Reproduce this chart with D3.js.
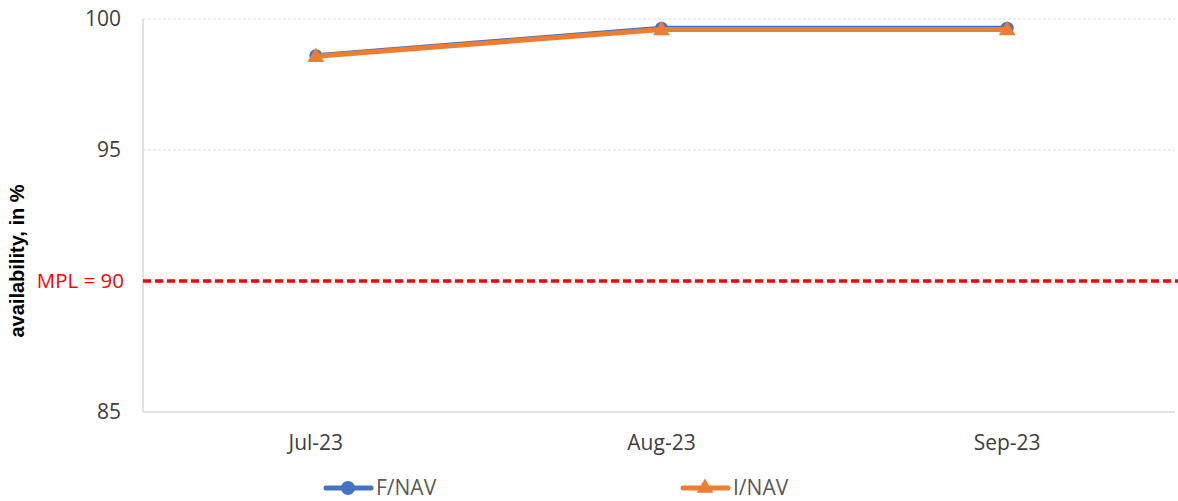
<!DOCTYPE html>
<html><head><meta charset="utf-8">
<script src="https://cdn.jsdelivr.net/npm/d3@7"></script>
<style>body{margin:0;background:#fff}svg{display:block}text{font-family:"Open Sans","Liberation Sans",sans-serif}</style>
</head><body>
<svg id="c" width="1178" height="501"></svg>
<script>
const categories = ["Jul-23", "Aug-23", "Sep-23"];
const fnav = [98.6, 99.65, 99.65];
const inav = [98.58, 99.6, 99.6];
const yTicks = [85, 95, 100];
const mpl = 90;

const svg = d3.select("#c");
const L = 143, R = 1178, T = 19, B = 412;
const x = d3.scaleBand().domain(categories).range([L, R + 2]);
const y = d3.scaleLinear().domain([85, 100]).range([B, T]);
const cx = d => x(d) + x.bandwidth() / 2;

// gridlines
svg.append("g").selectAll("line").data([95, 100]).join("line")
  .attr("x1", L).attr("x2", 1175).attr("y1", d => y(d)).attr("y2", d => y(d))
  .attr("stroke", "#d9d9d9").attr("stroke-width", 1).attr("stroke-dasharray", "3,2");
// axes lines
svg.append("line").attr("x1", L).attr("x2", L).attr("y1", T).attr("y2", B).attr("stroke", "#d9d9d9").attr("stroke-width", 1.5);
svg.append("line").attr("x1", L).attr("x2", 1175).attr("y1", B).attr("y2", B).attr("stroke", "#d9d9d9").attr("stroke-width", 1.5);

// y tick labels
svg.append("g").selectAll("text").data(yTicks).join("text")
  .attr("x", 121).attr("y", d => y(d)).attr("dy", "0.35em").attr("text-anchor", "end")
  .attr("font-size", 21).attr("fill", "#404040").text(d => d);

// x labels
svg.append("g").selectAll("text").data(categories).join("text")
  .attr("x", d => cx(d)).attr("y", 443).attr("dy", "0.35em").attr("text-anchor", "middle")
  .attr("font-size", 21).attr("fill", "#404040").text(d => d);

// y axis title
svg.append("text").attr("transform", `translate(17,261) rotate(-90)`)
  .attr("text-anchor", "middle").attr("dy", "0.35em").attr("font-size", 20).attr("font-weight", "bold")
  .style("font-family", "'Liberation Sans', Arial, sans-serif")
  .attr("fill", "#000").text("availability, in %");

// MPL line
svg.append("line").attr("x1", L).attr("x2", 1178).attr("y1", y(mpl)).attr("y2", y(mpl))
  .attr("stroke", "#ff0000").attr("stroke-width", 3.5).attr("stroke-dasharray", "8,4");
svg.append("text").attr("x", 124).attr("y", y(mpl)).attr("dy", "0.35em").attr("text-anchor", "end")
  .attr("font-size", 20.5).attr("fill", "#ff0000").text("MPL = " + mpl);

const line = d3.line().x((d, i) => cx(categories[i])).y(d => y(d));
const blue = "#4472C4", orange = "#ED7D31";

svg.append("path").datum(fnav).attr("d", line).attr("fill", "none").attr("stroke", blue).attr("stroke-width", 5);
svg.append("g").selectAll("circle").data(fnav).join("circle")
  .attr("cx", (d, i) => cx(categories[i])).attr("cy", d => y(d)).attr("r", 6.5).attr("fill", blue);

svg.append("path").datum(inav).attr("d", line).attr("fill", "none").attr("stroke", orange).attr("stroke-width", 5);
const tri = d3.symbol().type(d3.symbolTriangle).size(120);
svg.append("g").selectAll("path").data(inav).join("path")
  .attr("transform", (d, i) => `translate(${cx(categories[i])},${y(d) + 1})`).attr("d", tri).attr("fill", orange);

// legend
const leg = [{name: "F/NAV", c: blue, x1: 326, sym: "circle"}, {name: "I/NAV", c: orange, x1: 683, sym: "tri"}];
const lg = svg.append("g").selectAll("g").data(leg).join("g");
lg.append("line").attr("x1", d => d.x1).attr("x2", d => d.x1 + 45).attr("y1", 488).attr("y2", 488)
  .attr("stroke", d => d.c).attr("stroke-width", 5).attr("stroke-linecap", "round");
lg.each(function(d) {
  const g = d3.select(this);
  if (d.sym === "circle") g.append("circle").attr("cx", d.x1 + 22).attr("cy", 488).attr("r", 7).attr("fill", d.c);
  else g.append("path").attr("transform", `translate(${d.x1 + 22},488)`).attr("d", tri).attr("fill", d.c);
});
lg.append("text").attr("x", d => d.x1 + 50).attr("y", 488).attr("dy", "0.35em")
  .attr("font-size", 21).attr("fill", "#595959").text(d => d.name);
</script>
</body></html>
